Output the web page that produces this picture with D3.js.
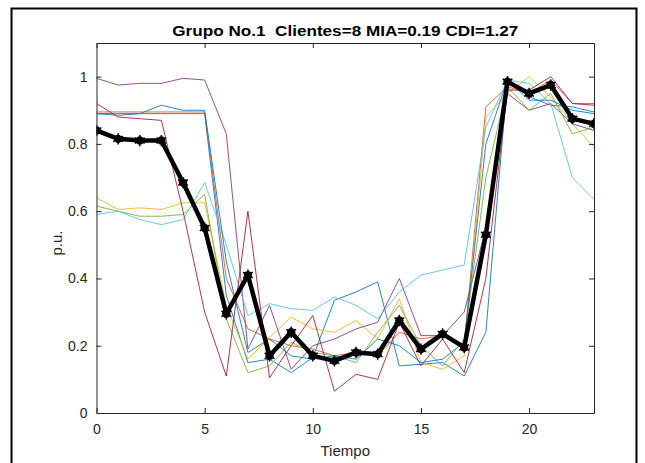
<!DOCTYPE html>
<html><head><meta charset="utf-8">
<script src="https://cdn.jsdelivr.net/npm/d3@7"></script>
<style>body{margin:0;background:#fff}svg{display:block}</style>
</head><body>
<svg id="c" width="645" height="463"></svg>
<script>
const hours = d3.range(0, 24);
const xTicks = [0, 5, 10, 15, 20];
const yTicks = [0, 0.2, 0.4, 0.6, 0.8, 1];
const titleText = "Grupo No.1\u00a0\u00a0Clientes=8 MIA=0.19 CDI=1.27";
const xLabel = "Tiempo";
const yLabel = "p.u.";

const clientBlue1  = [0.89,0.89,0.89,0.89,0.89,0.89,0.35,0.15,0.16,0.12,0.165,0.335,0.36,0.39,0.14,0.145,0.15,0.11,0.24,0.99,0.94,0.915,0.91,0.895];
const clientOrange = [0.895,0.895,0.895,0.895,0.895,0.895,0.40,0.25,0.22,0.20,0.19,0.17,0.18,0.17,0.24,0.22,0.23,0.20,0.91,0.97,0.95,0.99,0.92,0.92];
const clientYellow = [0.64,0.605,0.61,0.605,0.625,0.625,0.32,0.16,0.225,0.285,0.25,0.24,0.275,0.22,0.34,0.15,0.13,0.17,0.88,0.95,1.00,0.94,0.86,0.79];
const clientPurple = [0.995,0.975,0.98,0.98,0.995,0.99,0.83,0.19,0.32,0.13,0.20,0.22,0.25,0.27,0.40,0.23,0.23,0.30,0.55,0.95,0.90,0.92,0.86,0.84];
const clientGreen  = [0.615,0.60,0.585,0.585,0.59,0.65,0.28,0.12,0.14,0.21,0.18,0.17,0.15,0.24,0.32,0.20,0.14,0.22,0.70,0.97,0.90,0.95,0.83,0.85];
const clientCyan   = [0.59,0.60,0.575,0.56,0.575,0.685,0.50,0.29,0.325,0.31,0.305,0.345,0.32,0.28,0.36,0.41,0.425,0.44,0.85,0.99,0.98,0.92,0.70,0.635];
const clientRed    = [0.92,0.88,0.875,0.87,0.60,0.30,0.11,0.60,0.105,0.20,0.29,0.065,0.115,0.10,0.27,0.14,0.22,0.12,0.40,0.96,0.96,1.00,0.92,0.915];
const clientBlue2  = [0.89,0.885,0.89,0.915,0.90,0.90,0.45,0.18,0.22,0.17,0.16,0.17,0.16,0.22,0.20,0.15,0.16,0.21,0.80,0.99,0.93,0.93,0.90,0.89];
const centroid     = [0.84,0.815,0.81,0.81,0.685,0.55,0.295,0.41,0.17,0.24,0.17,0.155,0.18,0.175,0.275,0.19,0.235,0.195,0.53,0.985,0.95,0.975,0.875,0.86];

const clients = [clientBlue1, clientOrange, clientYellow, clientPurple, clientGreen, clientCyan, clientRed, clientBlue2];
const colors = ["#0072BD","#D95319","#EDB120","#7E2F8E","#77AC30","#4DBEEE","#A2142F","#0072BD"];

const svg = d3.select("#c");
const L = 96.5, R = 594, T = 43, B = 413;
const x = d3.scaleLinear().domain([0, 23]).range([L, R]);
const y = d3.scaleLinear().domain([0, 1.1]).range([B, T]);
const axisCol = "#262626";

// outer frame
svg.append("rect").attr("x", 11.5).attr("y", 8.5).attr("width", 625).attr("height", 470)
  .attr("fill", "none").attr("stroke", "#000").attr("stroke-width", 2);

const line = d3.line().x((d, i) => x(hours[i])).y(d => y(d));
const g = svg.append("g");
g.append("defs").append("clipPath").attr("id", "clp").append("rect")
  .attr("x", L).attr("y", T).attr("width", R - L).attr("height", B - T);
const plot = g.append("g").attr("clip-path", "url(#clp)");

clients.forEach((s, k) => {
  plot.append("path").datum(s).attr("d", line).attr("fill", "none")
    .attr("stroke", colors[k]).attr("stroke-width", 1).attr("stroke-opacity", 0.85);
});
plot.append("path").datum(centroid).attr("d", line).attr("fill", "none")
  .attr("stroke", "#000").attr("stroke-width", 4.5).attr("stroke-linejoin", "round");
plot.selectAll("circle.m").data(centroid).join("circle").attr("class", "m")
  .attr("cx", (d, i) => x(hours[i])).attr("cy", d => y(d)).attr("r", 4.2).attr("fill", "#000");
plot.selectAll("path.s").data(centroid).join("path").attr("class", "s")
  .attr("transform", (d, i) => `translate(${x(hours[i])},${y(d)})`)
  .attr("d", d3.symbol(d3.symbolAsterisk, 90)).attr("stroke", "#000").attr("stroke-width", 1.5).attr("fill", "none");

// axes
const font = "'Liberation Sans', Arial, sans-serif";
const ax = (gen, tr) => {
  const a = svg.append("g").attr("transform", tr).call(gen);
  a.select(".domain").attr("stroke", axisCol);
  a.selectAll(".tick line").attr("stroke", axisCol);
  a.selectAll("text").attr("fill", axisCol).style("font-family", font).style("font-size", "14px");
  return a;
};
ax(d3.axisBottom(x).tickValues(xTicks).tickSize(-5).tickPadding(11).tickSizeOuter(0).tickFormat(d3.format("d")), `translate(0,${B})`);
ax(d3.axisTop(x).tickValues(xTicks).tickSize(-5).tickSizeOuter(0).tickFormat(""), `translate(0,${T})`);
ax(d3.axisLeft(y).tickValues(yTicks).tickSize(-5).tickPadding(9).tickSizeOuter(0).tickFormat(d => d === 0 || d === 1 ? d3.format("d")(d) : d3.format(".1f")(d)), `translate(${L},0)`);
ax(d3.axisRight(y).tickValues(yTicks).tickSize(-5).tickSizeOuter(0).tickFormat(""), `translate(${R},0)`);

svg.append("text").attr("x", (L + R) / 2).attr("y", 35.5).attr("text-anchor", "middle")
  .attr("textLength", 346).attr("lengthAdjust", "spacingAndGlyphs")
  .style("font-family", font).style("font-size", "15.5px").style("font-weight", "bold").attr("fill", "#000")
  .text(titleText);
svg.append("text").attr("x", (L + R) / 2).attr("y", 456).attr("text-anchor", "middle")
  .style("font-family", font).style("font-size", "15px").attr("fill", axisCol).text(xLabel);
svg.append("text").attr("transform", `translate(62,${(T + B) / 2 + 15}) rotate(-90)`).attr("text-anchor", "middle")
  .style("font-family", font).style("font-size", "15px").attr("fill", axisCol).text(yLabel);
</script>
</body></html>
